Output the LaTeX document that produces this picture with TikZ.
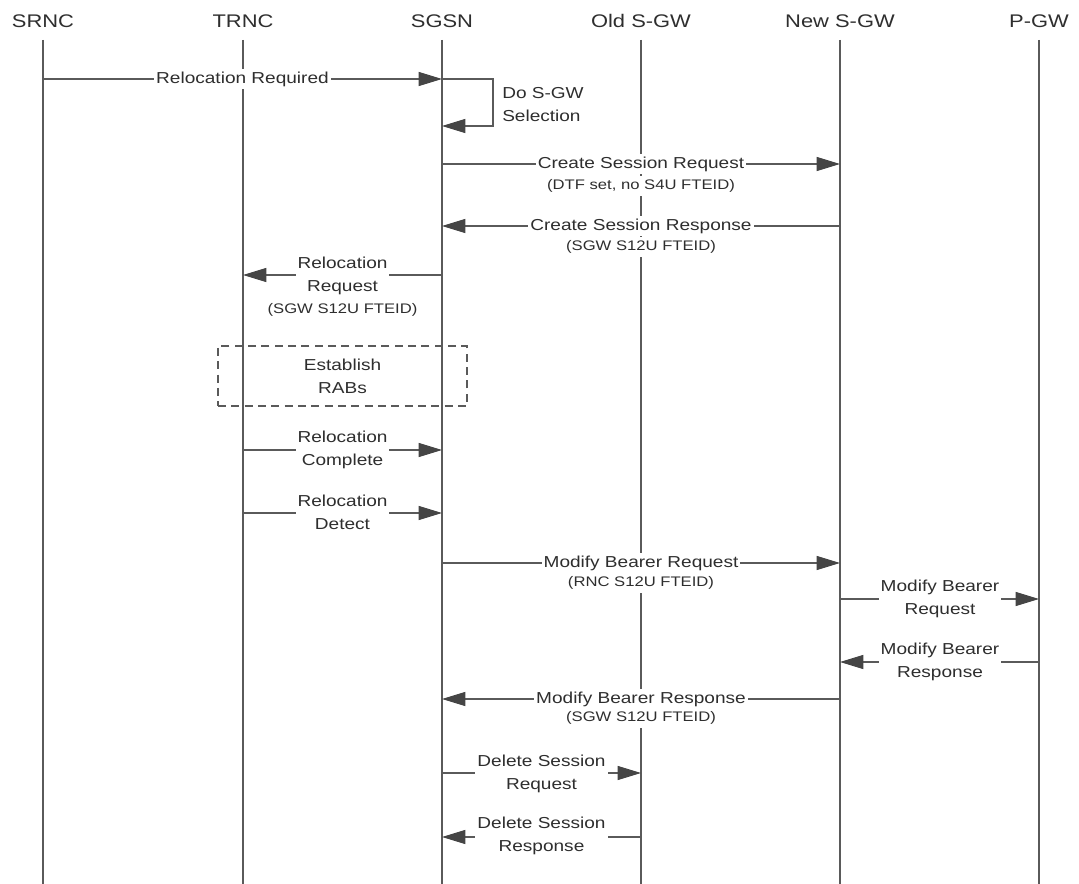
\documentclass[tikz,border=0pt]{standalone}
\usepackage{fontspec}
\setmainfont{Liberation Sans}[FakeStretch=1.2]
\usetikzlibrary{arrows.meta}
\definecolor{ln}{HTML}{5A5A5A}
\definecolor{ah}{HTML}{454545}
\definecolor{tx}{HTML}{2E2E2E}
\begin{document}
\begin{tikzpicture}[x=0.75pt,y=-0.75pt,
  lifeline/.style={draw=ln,line width=1pt},
  msg/.style={draw=ln,line width=0.9pt,-{Triangle[length=17.5pt,width=10.5pt,color=ah]}},
  hdr/.style={font=\fontsize{13.7}{16}\selectfont,text=tx,inner sep=0pt},
  lbl/.style={font=\fontsize{11.9}{17.25}\selectfont,text=tx,fill=white,inner xsep=1.5pt,inner ysep=2pt,align=center},
  sublbl/.style={font=\fontsize{10.4}{12}\selectfont,text=tx,fill=white,inner xsep=1.5pt,inner ysep=3pt,align=center},
  notebox/.style={draw=ln,line width=0.9pt,dash pattern=on 6pt off 4pt,minimum width=186.75pt,minimum height=45pt,
    font=\fontsize{11.9}{17.25}\selectfont,text=tx,align=center,inner sep=0pt},
]
\useasboundingbox (0,0) rectangle (1079,884);

% headers and lifelines
\foreach \id/\name/\x in {srnc/SRNC/43, trnc/TRNC/243, sgsn/SGSN/442, ogw/Old S-GW/641, ngw/New S-GW/840, pgw/P-GW/1039}{
  \node[hdr] (h-\id) at (\x,21) {\name};
  \coordinate (\id) at (\x,40);
  \coordinate (\id-b) at (\x,884);
  \draw[lifeline] (\id) -- (\id-b);
}

% Relocation Required
\draw[msg] (srnc |- 0,79) -- (sgsn |- 0,79);
\node[lbl] (m1) at (242.5,79) {Relocation Required};

% self loop
\coordinate (loopA) at (493,79);
\coordinate (loopB) at (493,126);
\draw[msg] (sgsn |- 0,79) -- (loopA) -- (loopB) -- (sgsn |- 0,126);
\node[font=\fontsize{11.9}{17.25}\selectfont,text=tx,align=left,anchor=west,inner sep=0pt] (m2) at (502,104.5) {Do S-GW\\Selection};

% Create Session Request
\draw[msg] (sgsn |- 0,164) -- (ngw |- 0,164);
\node[lbl] (m3) at (641,164) {Create Session Request};
\node[sublbl] (m3s) at (641,186) {(DTF set, no S4U FTEID)};

% Create Session Response
\draw[msg] (ngw |- 0,226) -- (sgsn |- 0,226);
\node[lbl] (m4) at (641,226) {Create Session Response};
\node[sublbl] (m4s) at (641,247) {(SGW S12U FTEID)};

% Relocation Request
\draw[msg] (sgsn |- 0,275) -- (trnc |- 0,275);
\node[lbl] (m5) at (342.5,275.5) {Relocation\\Request};
\node[sublbl] (m5s) at (342.5,310) {(SGW S12U FTEID)};

% Establish RABs
\node[notebox] (rabs) at (342.5,376) {Establish\\RABs};

% Relocation Complete
\draw[msg] (trnc |- 0,450) -- (sgsn |- 0,450);
\node[lbl] (m6) at (342.5,450) {Relocation\\Complete};

% Relocation Detect
\draw[msg] (trnc |- 0,513) -- (sgsn |- 0,513);
\node[lbl] (m7) at (342.5,512) {Relocation\\Detect};

% Modify Bearer Request (SGSN -> New S-GW)
\draw[msg] (sgsn |- 0,563) -- (ngw |- 0,563);
\node[lbl] (m8) at (641,563) {Modify Bearer Request};
\node[sublbl] (m8s) at (641,583) {(RNC S12U FTEID)};

% Modify Bearer Request (New S-GW -> P-GW)
\draw[msg] (ngw |- 0,599) -- (pgw |- 0,599);
\node[lbl] (m9) at (940,599) {Modify Bearer\\Request};

% Modify Bearer Response (P-GW -> New S-GW)
\draw[msg] (pgw |- 0,662) -- (ngw |- 0,662);
\node[lbl] (m10) at (940,662) {Modify Bearer\\Response};

% Modify Bearer Response (New S-GW -> SGSN)
\draw[msg] (ngw |- 0,699) -- (sgsn |- 0,699);
\node[lbl] (m11) at (641,699) {Modify Bearer Response};
\node[sublbl] (m11s) at (641,718) {(SGW S12U FTEID)};

% Delete Session Request
\draw[msg] (sgsn |- 0,773) -- (ogw |- 0,773);
\node[lbl] (m12) at (541.5,773.5) {Delete Session\\Request};

% Delete Session Response
\draw[msg] (ogw |- 0,837) -- (sgsn |- 0,837);
\node[lbl] (m13) at (541.5,835.5) {Delete Session\\Response};
\end{tikzpicture}
\end{document}
